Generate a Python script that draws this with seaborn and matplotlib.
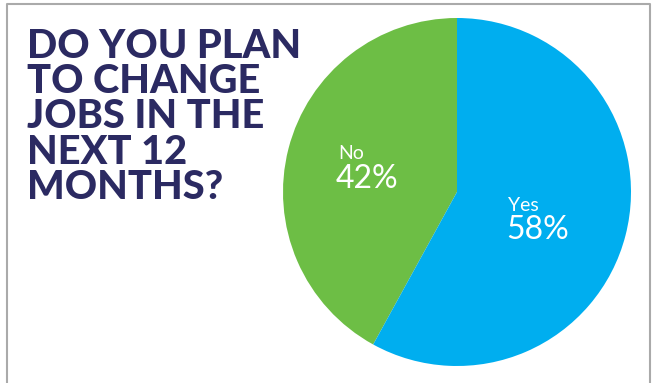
import matplotlib
matplotlib.use("Agg")
import matplotlib.pyplot as plt
import seaborn as sns
from matplotlib.lines import Line2D

sns.set_theme(style="white")
plt.rcParams['font.family'] = ['Lato', 'DejaVu Sans']

labels = ["No", "Yes"]
values = [42, 58]
colors = ["#6DBE45", "#00AEEF"]
title_lines = ["DO YOU PLAN", "TO CHANGE", "JOBS IN THE", "NEXT 12", "MONTHS?"]

W, H = 656, 383
fig = plt.figure(figsize=(W / 100, H / 100), dpi=100)
fig.patch.set_facecolor("white")

# border (left, top, right)
def fx(px):
    return px / W
def fy(py):
    return 1 - py / H
fig.add_artist(Line2D([fx(7), fx(7), fx(650), fx(650)], [0, fy(4), fy(4), 0],
                      color="#AAAAAA", lw=1.5, transform=fig.transFigure))

# pie
cx, cy, r = 457, 192, 174
ax = fig.add_axes([fx(cx - r), fy(cy + r), 2 * r / W, 2 * r / H])
ax.pie(values, colors=colors, startangle=90, counterclock=True, radius=1,
       wedgeprops=dict(linewidth=0))
ax.set_xlim(-1, 1)
ax.set_ylim(-1, 1)
ax.set_aspect("equal")
ax.axis("off")

def dpos(px, py):
    return (px - cx) / r, (cy - py) / r

x, y = dpos(338, 159)
ax.text(x, y, labels[0], color="white", fontsize=14, ha="left", va="baseline")
x, y = dpos(336, 188)
ax.text(x, y, f"{values[0]}%", color="white", fontsize=23, ha="left", va="baseline")
x, y = dpos(508, 211)
ax.text(x, y, labels[1], color="white", fontsize=14, ha="left", va="baseline")
x, y = dpos(506, 239)
ax.text(x, y, f"{values[1]}%", color="white", fontsize=23, ha="left", va="baseline")

# title
for i, line in enumerate(title_lines):
    fig.text(fx(27), fy(58 + i * 35.2), line, color="#2B2A62", fontsize=28.6,
             fontweight="black", family=["Lato", "DejaVu Sans"], ha="left", va="baseline")

fig.savefig("out.png", dpi=100, facecolor="white")
